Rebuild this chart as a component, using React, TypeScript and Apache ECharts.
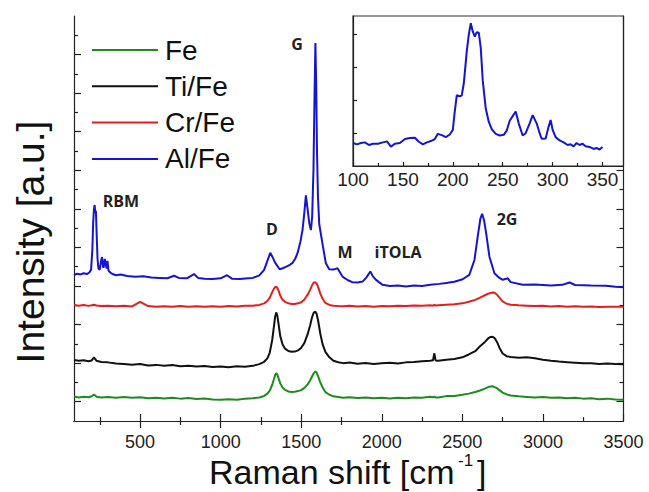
import React, { useEffect, useRef } from "react";
import * as echarts from "echarts";

// Raman shift grid shared by Fe, Ti/Fe and Cr/Fe spectra (cm^-1)
const shift = [
  90, 120, 150, 180, 200, 214, 230, 260, 300, 350,
  400, 450, 500, 550, 600, 650, 700, 750, 800, 850,
  900, 950, 1000, 1050, 1100, 1150, 1200, 1240, 1270, 1290,
  1305, 1320, 1330, 1338, 1345, 1352, 1360, 1370, 1385, 1400,
  1420, 1440, 1460, 1480, 1500, 1520, 1540, 1555, 1568, 1578,
  1588, 1596, 1605, 1618, 1632, 1650, 1675, 1700, 1730, 1760,
  1800, 1850, 1900, 1950, 2000, 2050, 2100, 2150, 2200, 2250,
  2300, 2318, 2326, 2334, 2350, 2400, 2450, 2500, 2540, 2580,
  2610, 2640, 2660, 2675, 2688, 2700, 2715, 2730, 2750, 2775,
  2800, 2850, 2900, 2950, 3000, 3050, 3100, 3150, 3200, 3250,
  3300, 3350, 3400, 3450, 3500,
];

const fe = [
  1.27, 1.22, 1.26, 1.23, 1.28, 1.37, 1.26, 1.22, 1.25, 1.21,
  1.24, 1.2, 1.23, 1.18, 1.21, 1.17, 1.2, 1.16, 1.19, 1.14,
  1.17, 1.12, 1.1, 1.13, 1.1, 1.15, 1.18, 1.22, 1.3, 1.42,
  1.58, 1.88, 2.15, 2.38, 2.48, 2.4, 2.2, 1.95, 1.72, 1.62,
  1.53, 1.5, 1.52, 1.55, 1.6, 1.72, 1.9, 2.1, 2.32, 2.48,
  2.57, 2.5, 2.32, 2.02, 1.75, 1.5, 1.36, 1.28, 1.24, 1.2,
  1.23, 1.19, 1.22, 1.18, 1.21, 1.17, 1.2, 1.18, 1.22, 1.2,
  1.26, 1.23, 1.27, 1.22, 1.22, 1.29, 1.3, 1.36, 1.42, 1.5,
  1.58, 1.68, 1.76, 1.79, 1.8, 1.76, 1.7, 1.6, 1.47, 1.38,
  1.32, 1.28, 1.25, 1.22, 1.24, 1.2, 1.22, 1.18, 1.2, 1.16,
  1.18, 1.13, 1.16, 1.12, 1.1,
];

const tiFe = [
  3.16, 3.12, 3.15, 3.1, 3.14, 3.3, 3.12, 3.06, 3.04, 2.98,
  2.96, 2.92, 2.95, 2.88, 2.91, 2.86, 2.9, 2.84, 2.87, 2.82,
  2.85, 2.8, 2.83, 2.79, 2.84, 2.81, 2.86, 2.95, 3.07, 3.25,
  3.55, 4.2, 4.85, 5.4, 5.63, 5.45, 5.0, 4.4, 3.95, 3.75,
  3.63, 3.59, 3.6, 3.66, 3.8, 4.05, 4.5, 4.95, 5.4, 5.62,
  5.67, 5.55, 5.2, 4.55, 4.0, 3.58, 3.3, 3.12, 3.05, 3.0,
  3.03, 2.97, 3.01, 2.96, 2.99, 3.02, 2.98, 3.04, 3.06, 3.1,
  3.12, 3.15, 3.51, 3.14, 3.13, 3.18, 3.22, 3.3, 3.45, 3.62,
  3.88, 4.1, 4.28, 4.36, 4.37, 4.3, 4.1, 3.8, 3.5, 3.36,
  3.32, 3.28, 3.3, 3.25, 3.18, 3.12, 3.08, 3.05, 3.02, 2.99,
  3.0, 2.96, 2.98, 2.95, 2.94,
];

const crFe = [
  6.02, 5.98, 6.01, 5.97, 6.0, 6.03, 5.99, 5.96, 5.98, 5.95,
  5.97, 5.94, 6.18, 5.96, 5.93, 5.95, 5.92, 5.96, 5.93, 5.95,
  5.92, 5.95, 5.93, 5.96, 5.94, 5.97, 5.98, 6.02, 6.1, 6.22,
  6.4, 6.68, 6.85, 6.94, 6.96, 6.9, 6.75, 6.5, 6.28, 6.18,
  6.1, 6.07, 6.07, 6.1, 6.16, 6.3, 6.55, 6.8, 7.05, 7.18,
  7.19, 7.12, 6.95, 6.62, 6.35, 6.12, 6.02, 5.98, 5.96, 5.95,
  5.97, 5.94, 5.96, 5.93, 5.96, 5.95, 5.98, 5.96, 5.99, 5.97,
  6.0, 5.98, 6.02, 5.99, 6.0, 6.03, 6.05, 6.1, 6.18, 6.28,
  6.4, 6.52, 6.6, 6.64, 6.66, 6.65, 6.55, 6.4, 6.2, 6.08,
  6.03, 6.0, 5.98, 5.96, 5.97, 5.94, 5.96, 5.93, 5.95, 5.92,
  5.94, 5.91, 5.93, 5.92, 5.93,
];

// Al/Fe spectrum: [Raman shift, intensity]
const alFe: [number, number][] = [
  [90, 7.57], [110, 7.64], [130, 7.6], [150, 7.66], [170, 7.62], [185, 7.7], [196, 7.85], [204, 8.9], [209, 10.3], [214, 11.0],
  [218, 11.2], [222, 10.8], [226, 10.9], [231, 9.6], [236, 8.4], [242, 7.9], [250, 7.85], [258, 8.3], [264, 8.5], [270, 8.0],
  [274, 7.95], [281, 8.4], [288, 8.1], [292, 7.9], [298, 8.3], [304, 7.8], [315, 7.7], [330, 7.62], [350, 7.56], [380, 7.6],
  [420, 7.52], [470, 7.48], [520, 7.5], [570, 7.44], [620, 7.42], [670, 7.4], [711, 7.53], [740, 7.42], [790, 7.4], [835, 7.62],
  [860, 7.42], [900, 7.38], [950, 7.36], [1000, 7.4], [1040, 7.56], [1070, 7.38], [1120, 7.36], [1170, 7.4], [1200, 7.42], [1240, 7.55],
  [1270, 7.84], [1290, 8.3], [1308, 8.72], [1322, 8.5], [1339, 8.2], [1366, 7.87], [1385, 7.92], [1405, 7.99], [1430, 8.1], [1446, 8.2],
  [1462, 8.4], [1477, 8.7], [1495, 9.3], [1508, 9.9], [1519, 10.77], [1529, 11.7], [1539, 11.03], [1550, 10.26], [1560, 9.9], [1568, 10.6],
  [1576, 13.0], [1582, 16.5], [1588, 19.6], [1593, 17.5], [1598, 14.0], [1604, 11.6], [1612, 10.2], [1635, 9.04], [1653, 8.18], [1674, 7.87],
  [1700, 7.85], [1725, 7.92], [1756, 7.49], [1790, 7.3], [1817, 7.2], [1850, 7.18], [1881, 7.23], [1905, 7.45], [1929, 7.75], [1945, 7.5],
  [1964, 7.32], [2005, 7.06], [2050, 7.0], [2100, 7.02], [2150, 6.97], [2200, 7.02], [2250, 7.0], [2300, 7.06], [2357, 7.11], [2400, 7.15],
  [2450, 7.22], [2502, 7.35], [2543, 7.58], [2575, 8.35], [2595, 9.55], [2612, 10.5], [2623, 10.74], [2635, 10.4], [2648, 9.72], [2668, 8.52],
  [2699, 7.66], [2725, 7.45], [2751, 7.32], [2782, 7.4], [2800, 7.2], [2875, 7.06], [2950, 7.08], [3050, 7.03], [3120, 7.06], [3165, 7.18],
  [3200, 7.05], [3300, 7.02], [3392, 7.01], [3450, 6.96], [3500, 6.94],
];

// Inset: RBM region of Al/Fe
const insetAlFe: [number, number][] = [
  [100, 0.7], [104, 0.66], [108, 0.7], [112, 0.72], [116, 0.64], [120, 0.68], [125, 0.68], [130, 0.72], [134, 0.75], [138, 0.59],
  [142, 0.68], [147, 0.7], [152, 0.82], [157, 0.85], [162, 0.86], [166, 0.74], [170, 0.66], [174, 0.72], [178, 0.76], [182, 0.82],
  [185, 0.98], [189, 0.94], [193, 0.88], [197, 0.96], [200, 1.1], [202, 1.67], [204, 2.16], [207, 2.12], [209, 2.15], [211, 2.52],
  [214, 3.5], [216, 4.0], [218, 4.35], [220, 4.1], [222, 3.94], [224, 4.08], [226, 4.06], [228, 3.6], [230, 2.6], [233, 1.75],
  [236, 1.35], [239, 1.12], [243, 0.98], [247, 0.93], [251, 0.95], [254, 1.08], [257, 1.38], [260, 1.52], [263, 1.66], [266, 1.3],
  [270, 0.93], [273, 1.0], [277, 1.3], [280, 1.55], [284, 1.3], [287, 1.0], [289, 0.83], [293, 0.84], [296, 1.2], [298, 1.4],
  [300, 1.1], [303, 0.88], [307, 0.78], [311, 0.72], [315, 0.64], [318, 0.66], [321, 0.6], [324, 0.7], [327, 0.64], [330, 0.68],
  [333, 0.6], [337, 0.58], [341, 0.52], [344, 0.55], [347, 0.5], [350, 0.58],
];

const seriesNames = ["Fe", "Ti/Fe", "Cr/Fe", "Al/Fe"];
const mainXMajor = [500, 1000, 1500, 2000, 2500, 3000, 3500];
const mainXMinor = [250, 750, 1250, 1750, 2250, 2750, 3250];
const topXMajor = [500, 1000, 1500];
const topXMinor = [250, 750, 1250, 1750];
const leftYMajor = [1, 3, 5, 7, 9, 11, 13, 15, 17, 19];
const leftYMinor = [2, 4, 6, 8, 10, 12, 14, 16, 18, 20];
const rightYMajor = [1, 3, 5, 7, 9, 11, 13];
const rightYMinor = [2, 4, 6, 8, 10, 12];
const insetXMajor = [100, 150, 200, 250, 300, 350];
const insetXMinor = [125, 175, 225, 275, 325];
const insetYTicks = [1, 2, 3, 4];

const annotations = [
  { text: "RBM", x: 121, y: 201 },
  { text: "D", x: 272, y: 229 },
  { text: "G", x: 297, y: 44 },
  { text: "M", x: 345, y: 252 },
  { text: "iTOLA", x: 398, y: 252 },
  { text: "2G", x: 507, y: 219 },
];

const AXIS = "#222";
const FONT = "Liberation Sans, Arial, sans-serif";

function zip(xs: number[], ys: number[]) {
  return xs.map((x, i) => [x, ys[i]]);
}

function xAx(grid: number, pos: string, min: number, max: number, ticks: number[], len: number, line: boolean, labels: boolean, fontSize = 18, margin = 12) {
  return {
    type: "value",
    gridIndex: grid,
    position: pos,
    min,
    max,
    axisLine: { show: line, lineStyle: { color: AXIS, width: 1.2 } },
    axisTick: { show: true, inside: true, length: len, customValues: ticks, lineStyle: { color: AXIS, width: 1.2 } },
    axisLabel: labels
      ? { show: true, customValues: ticks, fontSize, fontFamily: FONT, color: "#222", margin, formatter: (v: number) => String(v) }
      : { show: false },
    splitLine: { show: false },
  };
}

function yAx(grid: number, pos: string, min: number, max: number, ticks: number[], len: number, line: boolean) {
  return {
    type: "value",
    gridIndex: grid,
    position: pos,
    min,
    max,
    axisLine: { show: line, lineStyle: { color: AXIS, width: 1.2 } },
    axisTick: { show: true, inside: true, length: len, customValues: ticks, lineStyle: { color: AXIS, width: 1.2 } },
    axisLabel: { show: false },
    splitLine: { show: false },
  };
}

export default function App() {
  const ref = useRef<HTMLDivElement>(null);
  useEffect(() => {
    if (!ref.current) return;
    const chart = echarts.init(ref.current, null, { renderer: "svg" });
    const colors = ["#1c8c1c", "#111111", "#e81c1c", "#1414d2"];
    const option: any = {
      animation: false,
      backgroundColor: "#ffffff",
      grid: [
        { left: 74, top: 16, width: 549.5, height: 405, show: false },
        { left: 353, top: 16, width: 270.5, height: 150, show: true, backgroundColor: "#ffffff", borderColor: "#333", borderWidth: 1.2 },
      ],
      legend: {
        data: seriesNames,
        orient: "vertical",
        left: 92,
        top: 36,
        padding: 0,
        icon: "rect",
        itemWidth: 66,
        itemHeight: 2,
        itemGap: 8.3,
        textStyle: { fontSize: 28, fontFamily: FONT, color: "#111", padding: [0, 0, 0, 2] },
      },
      xAxis: [
        xAx(0, "bottom", 90, 3500, mainXMajor, 7, true, true),
        xAx(0, "bottom", 90, 3500, mainXMinor, 4, false, false),
        xAx(0, "top", 90, 3500, topXMajor, 7, true, false),
        xAx(0, "top", 90, 3500, topXMinor, 4, false, false),
        xAx(1, "bottom", 100, 371, insetXMajor, 4, true, true, 19, 4),
        xAx(1, "bottom", 100, 371, insetXMinor, 3, false, false),
      ],
      yAxis: [
        yAx(0, "left", 0, 21, leftYMajor, 7, true),
        yAx(0, "left", 0, 21, leftYMinor, 4, false),
        yAx(0, "right", 0, 21, rightYMajor, 7, true),
        yAx(0, "right", 0, 21, rightYMinor, 4, false),
        yAx(1, "left", 0, 4.57, insetYTicks, 4, true),
      ],
      series: [
        { name: "Fe", type: "line", xAxisIndex: 0, yAxisIndex: 0, data: zip(shift, fe), color: colors[0] },
        { name: "Ti/Fe", type: "line", xAxisIndex: 0, yAxisIndex: 0, data: zip(shift, tiFe), color: colors[1] },
        { name: "Cr/Fe", type: "line", xAxisIndex: 0, yAxisIndex: 0, data: zip(shift, crFe), color: colors[2] },
        { name: "Al/Fe", type: "line", xAxisIndex: 0, yAxisIndex: 0, data: alFe, color: colors[3] },
        { name: "Al/Fe (RBM)", type: "line", xAxisIndex: 4, yAxisIndex: 4, data: insetAlFe, color: colors[3], z: 5 },
      ].map((s: any) => ({
        ...s,
        symbol: "none",
        showSymbol: false,
        lineStyle: { width: 2, color: s.color },
        itemStyle: { color: s.color },
      })),
      graphic: [
        ...annotations.map((a) => ({
          type: "text",
          x: a.x,
          y: a.y,
          style: {
            text: a.text,
            fontSize: 16,
            fontWeight: "bold",
            fontFamily: "Open Sans, sans-serif",
            fill: "#222",
            align: "center",
            verticalAlign: "middle",
          },
          z: 10,
        })),
        {
          type: "text",
          x: 30,
          y: 242,
          rotation: Math.PI / 2,
          style: { text: "Intensity [a.u.]", fontSize: 39, fontFamily: FONT, fill: "#111", align: "center", verticalAlign: "middle" },
        },
        {
          type: "text",
          x: 209,
          y: 472,
          style: { text: "Raman shift [cm", fontSize: 34, fontFamily: FONT, fill: "#111", align: "left", verticalAlign: "middle" },
        },
        {
          type: "text",
          x: 458,
          y: 460,
          style: { text: "-1", fontSize: 17, fontFamily: FONT, fill: "#111", align: "left", verticalAlign: "middle" },
        },
        {
          type: "text",
          x: 477,
          y: 472,
          style: { text: "]", fontSize: 34, fontFamily: FONT, fill: "#111", align: "left", verticalAlign: "middle" },
        },
      ],
    };
    chart.setOption(option);
    return () => chart.dispose();
  }, []);
  return <div ref={ref} style={{ position: "absolute", left: 0, top: 0, width: 649, height: 492 }} />;
}
